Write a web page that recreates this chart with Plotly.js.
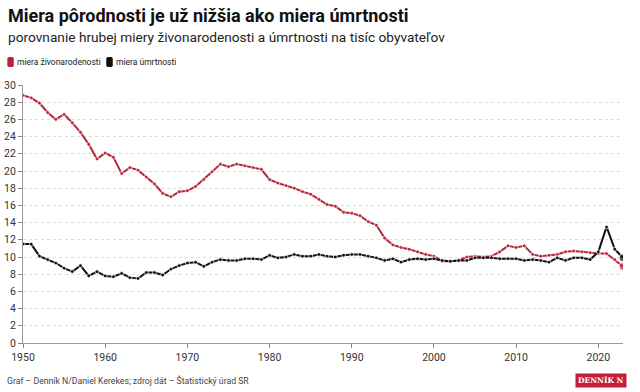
<!DOCTYPE html>
<html><head><meta charset="utf-8">
<script src="https://cdn.plot.ly/plotly-3.0.1.min.js"></script>
<style>html,body{margin:0;padding:0;background:#fff}#chart{width:640px;height:392px}</style>
</head><body><div id="chart"></div>
<script>
const years = [];
for (let y = 1950; y <= 2023; y++) years.push(y);
const birthRate = [28.8,28.5,27.9,26.8,26.0,26.6,25.6,24.5,23.1,21.4,
22.1,21.6,19.7,20.4,20.1,19.3,18.5,17.4,17.0,17.6,
17.7,18.2,19.0,19.9,20.8,20.5,20.8,20.6,20.4,20.2,
19.0,18.6,18.3,18.0,17.6,17.3,16.7,16.1,15.9,15.2,
15.1,14.8,14.1,13.7,12.2,11.4,11.1,10.9,10.6,10.3,
10.1,9.5,9.5,9.6,10.0,10.1,10.0,10.1,10.6,11.3,
11.1,11.3,10.3,10.1,10.2,10.3,10.6,10.7,10.6,10.5,
10.4,10.4,9.7,8.9];
const deathRate = [11.5,11.5,10.1,9.7,9.3,8.7,8.3,9.0,7.8,8.3,
7.8,7.7,8.1,7.6,7.5,8.2,8.2,7.9,8.6,9.0,
9.3,9.4,8.9,9.4,9.7,9.6,9.6,9.8,9.8,9.7,
10.2,9.9,10.0,10.3,10.1,10.1,10.3,10.1,10.0,10.2,
10.3,10.3,10.1,9.9,9.6,9.8,9.4,9.7,9.8,9.7,
9.8,9.6,9.5,9.6,9.6,9.9,9.9,9.9,9.8,9.8,
9.8,9.6,9.7,9.6,9.4,9.9,9.6,9.9,9.9,9.7,
10.6,13.5,10.9,9.9];
const seriesNames = ['miera živonarodenosti', 'miera úmrtnosti'];
const xTicks = [1950,1960,1970,1980,1990,2000,2010,2020];
const yTicks = [0,2,4,6,8,10,12,14,16,18,20,22,24,26,28,30];

const RED = '#b8243c', BLACK = '#111111';
const sizes = n => years.map((_, i) => i === n - 1 ? 8 : 4);

const traces = [
  {x: years, y: birthRate, name: seriesNames[0], mode: 'lines+markers', line: {color: RED, width: 2}, marker: {color: RED, size: sizes(years.length)}, showlegend: false},
  {x: years, y: deathRate, name: seriesNames[1], mode: 'lines+markers', line: {color: BLACK, width: 2}, marker: {color: BLACK, size: sizes(years.length)}, showlegend: false}
];

const FONT = 'Roboto, sans-serif';
const PW = 600.3, PH = 258.3, L = 22.7, B0 = 343.3;
const px = v => (v - L) / PW;
const py = v => (B0 - v) / PH;
function roundRect(x0, y0, x1, y1, r) {
  const X = v => px(v).toFixed(5), Y = v => py(v).toFixed(5);
  return 'M' + X(x0 + r) + ',' + Y(y0) + ' L' + X(x1 - r) + ',' + Y(y0) +
    ' Q' + X(x1) + ',' + Y(y0) + ' ' + X(x1) + ',' + Y(y0 + r) +
    ' L' + X(x1) + ',' + Y(y1 - r) + ' Q' + X(x1) + ',' + Y(y1) + ' ' + X(x1 - r) + ',' + Y(y1) +
    ' L' + X(x0 + r) + ',' + Y(y1) + ' Q' + X(x0) + ',' + Y(y1) + ' ' + X(x0) + ',' + Y(y1 - r) +
    ' L' + X(x0) + ',' + Y(y0 + r) + ' Q' + X(x0) + ',' + Y(y0) + ' ' + X(x0 + r) + ',' + Y(y0) + ' Z';
}
const LEGY = py(62);
const layout = {
  width: 640, height: 392,
  margin: {l: L, r: 17, t: 85, b: 48.7},
  paper_bgcolor: '#fff', plot_bgcolor: '#fff',
  font: {family: FONT, color: '#333', size: 10},
  showlegend: false,
  title: {text: '<b>Miera pôrodnosti je už nižšia ako miera úmrtnosti</b>', x: 0.0125, xanchor: 'left', y: 0.959, yanchor: 'middle', font: {family: FONT, size: 18, color: '#111'}},
  xaxis: {range: [1950, 2023], tickvals: xTicks, ticktext: xTicks.map(String), ticks: 'outside', ticklen: 4, tickcolor: '#888', showline: true, linecolor: '#999', linewidth: 1, showgrid: false, zeroline: false, tickfont: {family: FONT, size: 10.5, color: '#333'}, fixedrange: true},
  yaxis: {range: [0, 30], tickvals: yTicks, ticktext: yTicks.map(String), ticks: 'outside', ticklen: 4, tickcolor: '#888', showline: true, linecolor: '#999', linewidth: 1, showgrid: true, gridcolor: '#dddddd', griddash: 'dot', gridwidth: 1, zeroline: false, tickfont: {family: FONT, size: 10.5, color: '#333'}, fixedrange: true},
  shapes: [
    {type: 'path', xref: 'paper', yref: 'paper', path: roundRect(7, 57, 13.5, 67, 1.8), fillcolor: RED, line: {width: 0}},
    {type: 'path', xref: 'paper', yref: 'paper', path: roundRect(106, 57, 112.5, 67, 1.8), fillcolor: BLACK, line: {width: 0}}
  ],
  annotations: [
    {text: 'porovnanie hrubej miery živonarodenosti a úmrtnosti na tisíc obyvateľov', xref: 'paper', yref: 'paper', x: px(8) - 0.004, xanchor: 'left', y: 1.186, yanchor: 'middle', showarrow: false, font: {family: FONT, size: 13.7, color: '#222'}},
    {text: seriesNames[0], xref: 'paper', yref: 'paper', x: px(14.5), xanchor: 'left', y: LEGY, yanchor: 'middle', showarrow: false, font: {family: FONT, size: 8.5, color: '#222'}},
    {text: seriesNames[1], xref: 'paper', yref: 'paper', x: px(113.5), xanchor: 'left', y: LEGY, yanchor: 'middle', showarrow: false, font: {family: FONT, size: 8.5, color: '#222'}},
    {text: 'Graf – Denník N/Daniel Kerekes; zdroj dát – Štatistický úrad SR', xref: 'paper', yref: 'paper', x: px(5), xanchor: 'left', y: -0.145, yanchor: 'middle', showarrow: false, font: {family: FONT, size: 8.7, color: '#444'}},
    {text: '<b>DENNÍK N</b>', xref: 'paper', yref: 'paper', x: px(627), xanchor: 'right', y: -0.145, yanchor: 'middle', showarrow: false, bgcolor: '#c41f3a', borderpad: 2, font: {family: '"DejaVu Serif", serif', size: 7.5, color: '#fff'}}
  ]
};
Plotly.newPlot('chart', traces, layout, {displayModeBar: false, staticPlot: true});
</script></body></html>
